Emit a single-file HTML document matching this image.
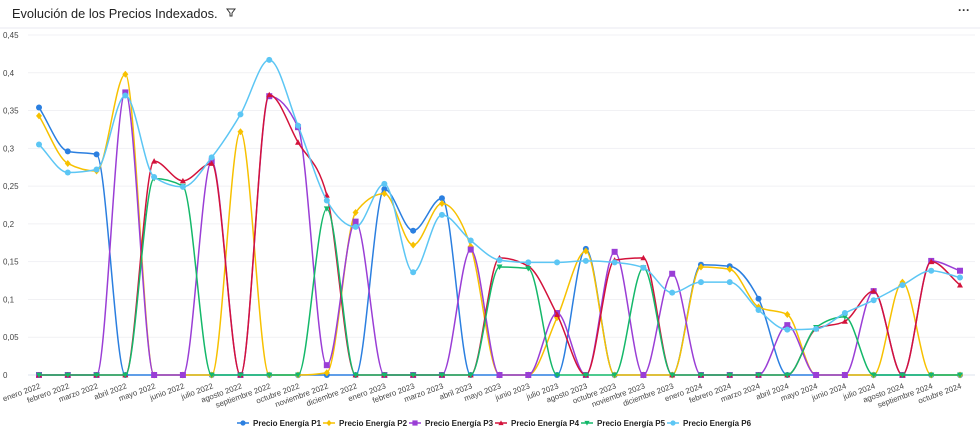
<!DOCTYPE html>
<html><head><meta charset="utf-8">
<style>
body{margin:0;background:#fff;font-family:"Liberation Sans",sans-serif;}
#wrap{position:relative;width:980px;height:432px;overflow:hidden;}
svg{position:absolute;left:0;top:0}
</style></head>
<body>
<div id="wrap">
<svg id="chart" width="980" height="432">
  <text x="12" y="18" font-size="12.8" fill="#222">Evolución de los Precios Indexados.</text>
  <g><path d="M227 9 L235 9 L232 13 L232 16 L230 16 L230 13 Z" fill="none" stroke="#333" stroke-width="1"/></g>
  <text x="958" y="14" font-size="12" font-weight="bold" fill="#333">···</text>
  <line x1="0" y1="28" x2="980" y2="28" stroke="#e8e8f0"/>
  <g id="grid"></g><g id="ylab"></g><g id="xlab"></g><g id="series"></g><g id="legend"></g>
</svg>
</div>
<script>
const categories=["enero 2022","febrero 2022","marzo 2022","abril 2022","mayo 2022","junio 2022","julio 2022","agosto 2022","septiembre 2022","octubre 2022","noviembre 2022","diciembre 2022","enero 2023","febrero 2023","marzo 2023","abril 2023","mayo 2023","junio 2023","julio 2023","agosto 2023","octubre 2023","noviembre 2023","diciembre 2023","enero 2024","febrero 2024","marzo 2024","abril 2024","mayo 2024","junio 2024","julio 2024","agosto 2024","septiembre 2024","octubre 2024"];
const yTicks=[0,0.05,0.1,0.15,0.2,0.25,0.3,0.35,0.4,0.45];
const yTickLabels=["0","0,05","0,1","0,15","0,2","0,25","0,3","0,35","0,4","0,45"];
const seriesNames=["Precio Energía P1","Precio Energía P2","Precio Energía P3","Precio Energía P4","Precio Energía P5","Precio Energía P6"];
const p1=[0.354,0.296,0.292,0,0,0,0,0,0,0,0,0,0.246,0.191,0.234,0,0,0,0,0.167,0,0,0,0.146,0.144,0.101,0,0,0,0,0,0,0];
const p2=[0.343,0.280,0.270,0.398,0,0,0,0.322,0,0,0.003,0.215,0.240,0.172,0.227,0.170,0,0,0.076,0.164,0,0,0,0.143,0.140,0.090,0.080,0,0,0,0.123,0,0];
const p3=[0,0,0,0.374,0,0,0.283,0,0.369,0.328,0.013,0.203,0,0,0,0.166,0,0,0.082,0,0.163,0,0.134,0,0,0,0.066,0,0,0.111,0,0.151,0.138];
const p4=[0,0,0,0,0.283,0.257,0.280,0,0.371,0.308,0.238,0,0,0,0,0,0.155,0.144,0.080,0,0.152,0.155,0,0,0,0,0,0.061,0.071,0.111,0,0.150,0.119];
const p5=[0,0,0,0,0.260,0.250,0,0,0,0,0.220,0,0,0,0,0,0.143,0.141,0,0,0,0.142,0,0,0,0,0,0.063,0.077,0,0,0,0];
const p6=[0.305,0.268,0.272,0.370,0.262,0.249,0.288,0.345,0.417,0.330,0.231,0.196,0.253,0.136,0.212,0.178,0.152,0.149,0.149,0.151,0.149,0.142,0.109,0.123,0.123,0.086,0.060,0.061,0.082,0.099,0.119,0.138,0.129];
const allSeries=[p1,p2,p3,p4,p5,p6];
const colors=["#2b7fe0","#f7c100","#9a3ed6","#d3123b","#14b86a","#5cc6f4"];
const shapes=["circle","diamond","square","triangle","tri-down","circle"];

const NS="http://www.w3.org/2000/svg";
const X0=39,X1=960,Y0=375,Y1=35,YMAX=0.45;
const xs=i=>X0+(X1-X0)*i/(categories.length-1);
const ys=v=>Y0-(Y0-Y1)*v/YMAX;
function mk(tag,attrs,parent){const e=document.createElementNS(NS,tag);for(const k in attrs)e.setAttribute(k,attrs[k]);parent.appendChild(e);return e;}
const grid=document.getElementById('grid'),ylab=document.getElementById('ylab'),xlab=document.getElementById('xlab'),ser=document.getElementById('series'),leg=document.getElementById('legend');
yTicks.forEach((t,i)=>{
  const l=mk('line',{x1:28,x2:975,y1:ys(t),y2:ys(t),stroke:i==0?'#dde3ee':'#f1f1f4','stroke-width':1},grid);
  
  
  const tx=mk('text',{x:3,y:ys(t)+3,'font-size':8,fill:'#444'},ylab);tx.textContent=yTickLabels[i];
  
  
});
categories.forEach((c,i)=>{
  const tx=mk('text',{x:xs(i)+2,y:Y0+13,'font-size':7.8,fill:'#444','text-anchor':'end',transform:`rotate(-20 ${xs(i)+2} ${Y0+13})`},xlab);tx.textContent=c;
  
  
});
function monotonePath(pts){
  const n=pts.length;const dx=[],dy=[],m=[],t=[];
  for(let i=0;i<n-1;i++){dx[i]=pts[i+1][0]-pts[i][0];dy[i]=pts[i+1][1]-pts[i][1];m[i]=dy[i]/dx[i];}
  t[0]=m[0];t[n-1]=m[n-2];
  for(let i=1;i<n-1;i++){if(m[i-1]*m[i]<=0)t[i]=0;else{const s=(m[i-1]*dx[i]+m[i]*dx[i-1])/(dx[i-1]+dx[i]);t[i]=Math.sign(s)*Math.min(Math.abs(s),2*Math.min(Math.abs(m[i-1]),Math.abs(m[i])));}}
  let d=`M${pts[0][0]},${pts[0][1]}`;
  for(let i=0;i<n-1;i++){const h=dx[i]/3;d+=` C${pts[i][0]+h},${pts[i][1]+t[i]*h} ${pts[i+1][0]-h},${pts[i+1][1]-t[i+1]*h} ${pts[i+1][0]},${pts[i+1][1]}`;}
  return d;
}
function marker(shape,x,y,col,parent,r){
  r=r||3;let e;
  if(shape=='circle')e=mk('circle',{cx:x,cy:y,r:r,fill:col},parent);
  else if(shape=='square')e=mk('rect',{x:x-r,y:y-r,width:2*r,height:2*r,fill:col},parent);
  else if(shape=='diamond')e=mk('path',{d:`M${x},${y-r-0.5}L${x+r},${y}L${x},${y+r+0.5}L${x-r},${y}Z`,fill:col},parent);
  else if(shape=='triangle')e=mk('path',{d:`M${x},${y-r}L${x+r},${y+r*0.8}L${x-r},${y+r*0.8}Z`,fill:col},parent);
  else e=mk('path',{d:`M${x},${y+r}L${x+r},${y-r*0.8}L${x-r},${y-r*0.8}Z`,fill:col},parent);
  return e;
}
allSeries.forEach((data,si)=>{
  const g=mk('g',{},ser);
  
  
  const pts=data.map((v,i)=>[xs(i),ys(v)]);
  const p=mk('path',{d:monotonePath(pts),fill:'none',stroke:colors[si],'stroke-width':1.5},g);
  
  
  pts.forEach(pt=>{const m=marker(shapes[si],pt[0],pt[1],colors[si],g);
    
    });
});
const legX=[237,323,409,495,581,667];
seriesNames.forEach((n,i)=>{
  const g=mk('g',{},leg);
  
  
  mk('line',{x1:legX[i],x2:legX[i]+12,y1:423,y2:423,stroke:colors[i],'stroke-width':1.5},g);
  marker(shapes[i],legX[i]+6,423,colors[i],g,2.6);
  const t=mk('text',{x:legX[i]+16,y:426,'font-size':8,'font-weight':'bold',fill:'#222'},g);t.textContent=n;
});
</script>
</body></html>
